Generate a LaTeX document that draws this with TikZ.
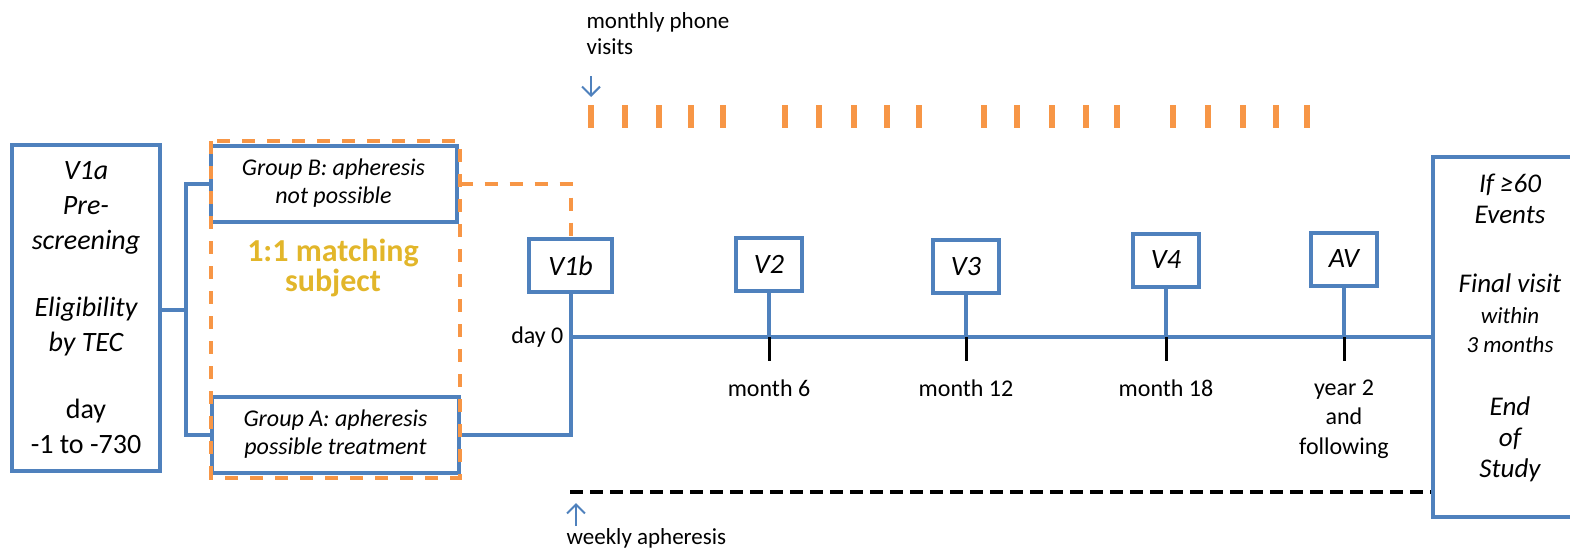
\documentclass[tikz,border=0pt]{standalone}
\usepackage{fontspec}
\setmainfont{Carlito}
\usetikzlibrary{positioning, arrows, arrows.meta}
\definecolor{lineblue}{HTML}{4F81BD}
\definecolor{dashorange}{HTML}{F79646}
\definecolor{matchgold}{HTML}{E2B62A}

\begin{document}
\begin{tikzpicture}[x=0.5pt, y=-0.5pt, semithick,
    box/.style={draw=lineblue, line width=2pt, fill=white, align=center, inner sep=0pt},
    visit/.style={box, minimum width=33pt, minimum height=26.5pt, font=\fontsize{14}{16}\selectfont\itshape},
    groupbox/.style={box, minimum width=123pt, minimum height=38pt, font=\fontsize{12}{14}\selectfont\itshape},
    blueline/.style={draw=lineblue, line width=2pt},
    orangedash/.style={draw=dashorange, line width=2pt, dash pattern=on 6.5pt off 6pt},
    phonetick/.style={draw=dashorange, line width=3pt},
    blacktick/.style={draw=black, line width=1.5pt},
    pointer/.style={-{Straight Barb[length=4.5pt, width=9pt]}, draw=lineblue, line width=1pt},
    timelabel/.style={font=\fontsize{12}{14.75}\selectfont, align=center, inner sep=0pt}]
    \useasboundingbox (0,0) rectangle (1570,552);

    % boxes
    \node[box, minimum width=74pt, minimum height=163pt, font=\fontsize{14}{17.5}\selectfont\itshape] (V1a) at (86,308)
        {V1a\\Pre-\\screening\\[16pt]Eligibility\\by TEC\\[16pt]{\upshape day}\\{\upshape -1 to -730}};
    \node[groupbox] (gB) at (333.5,183.5) {Group B: apheresis\\not possible};
    \node[groupbox, minimum width=123.5pt] (gA) at (335.5,434.5) {Group A: apheresis\\possible treatment};
    \node[box, minimum width=77pt, minimum height=180pt, font=\fontsize{13.5}{15.5}\selectfont\itshape] (end) at (1510,337)
        {If ≥60\\Events\\[19pt]Final visit\\{\fontsize{11.5}{13.5}\selectfont within}\\[-1pt]{\fontsize{11.5}{13.5}\selectfont 3 months}\\[16pt]End\\of\\Study\\[-4pt]};

    \node[visit, minimum width=41.5pt] (V1b) at (570.5,265.5) {V1b};
    \node[visit] (V2) at (769,264.5) {V2};
    \node[visit] (V3) at (966,266.5) {V3};
    \node[visit] (V4) at (1166,260) {V4};
    \node[visit] (AV) at (1344,259) {AV};

    % matching frame
    \node[draw=none, minimum width=123.5pt, minimum height=167.5pt, inner sep=0pt] (match) at (335.5,309.5) {};
    \node[font=\fontsize{16}{15}\selectfont\bfseries, text=matchgold, align=center] (matchtxt) at (333,268) {1:1 matching\\subject};

    % bracket
    \coordinate (split) at (186,310);
    \draw[blueline] (V1a.east |- split) -- (split);
    \draw[blueline] (gB.west) -| (split) |- (gA.west);
    \draw[blueline] (gA.east) -| (V1b.south);

    % timeline
    \coordinate (t0) at (V1b.south |- end.west);
    \draw[blueline] (t0) -- (end.west);
    \node[timelabel, anchor=east] (day0) at (564,337) {day 0};
    \foreach \v/\lab in {V2/month 6, V3/month 12, V4/month 18, AV/{year 2\\and\\following}} {
        \draw[blueline] (\v.south) -- (\v.south |- end.west);
        \draw[blacktick] (\v.south |- end.west) -- ++(0,24);
        \node[timelabel, anchor=north] at ([yshift=-21pt]\v.south |- end.west) {\lab};
    }

    % orange frame and link
    \draw[orangedash] (match.north west) rectangle (match.south east);
    \draw[orangedash] (match.east |- gB.east) -| (V1b.north);

    % monthly phone visits
    \foreach \x in {591,625,659,691,723, 785,819,854,887,919, 984,1017,1052,1086,1117, 1173,1208,1243,1276,1307}
        \draw[phonetick] (\x,105) -- (\x,128);
    \node[font=\fontsize{11.5}{13}\selectfont, align=left, anchor=west, inner sep=0pt] (phone) at (586,34) {monthly phone\\visits};
    \coordinate (phonetip) at (591,97);
    \draw[pointer] (591,76) -- (phonetip);

    % weekly apheresis
    \coordinate (weekstart) at (570,492);
    \draw[draw=black, line width=1.6pt, dash pattern=on 6.5pt off 3.5pt] (weekstart) -- (end.west |- weekstart);
    \node[font=\fontsize{11.5}{13}\selectfont, anchor=west, inner sep=0pt] (weekly) at (566,538) {weekly apheresis};
    \coordinate (weektip) at (576,503);
    \draw[pointer] (576,526) -- (weektip);
\end{tikzpicture}
\end{document}
